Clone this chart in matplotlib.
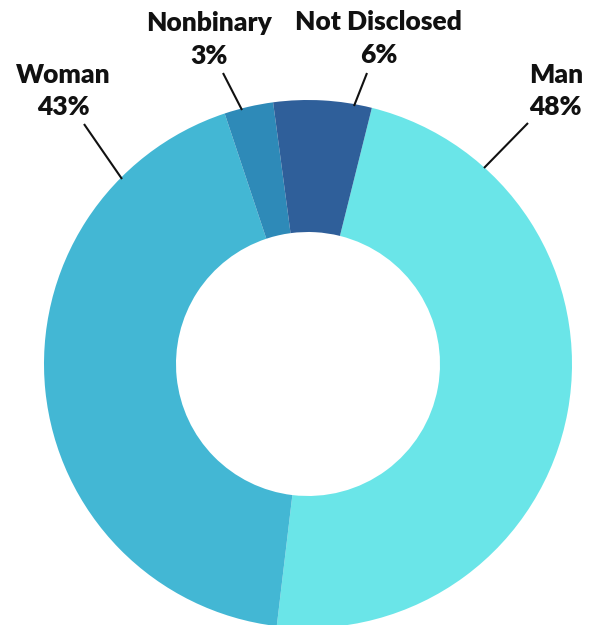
import numpy as np
import matplotlib.pyplot as plt

labels = ['Man', 'Woman', 'Nonbinary', 'Not Disclosed']
shares = [48, 43, 3, 6]
colors = ['#6AE5E8', '#43B7D4', '#2E8AB8', '#2F5F9A']

# label layout in pixels: name centre, percent centre, leader start, leader end
name_pos = [(556, 75), (63, 75), (209, 23), (378, 22)]
pct_pos = [(555, 107), (63, 107), (209, 56), (379, 55)]
lead_from = [(528, 123), (84, 124), (223, 73), (367, 73)]
lead_to = [(484, 168), (122, 179), (242, 110), (354, 106)]

W, H = 598, 625
cx, cy, R = 308, 364, 264


def px(p):
    return ((p[0] - cx) / R, (cy - p[1]) / R)


fig = plt.figure(figsize=(W / 100, H / 100), dpi=100)
ax = fig.add_axes([0, 0, 1, 1])
ax.pie(shares, colors=colors, startangle=76, counterclock=False,
       wedgeprops=dict(width=0.5, edgecolor='none'))
ax.set_xlim(-cx / R, (W - cx) / R)
ax.set_ylim(-(H - cy) / R, cy / R)
ax.set_aspect('auto')
ax.axis('off')

font = dict(family=['Lato', 'DejaVu Sans'], fontweight='heavy',
            fontsize=19, color='#111111', ha='center', va='center')
for lab, s, npos, ppos, a, b in zip(labels, shares, name_pos, pct_pos,
                                    lead_from, lead_to):
    ax.text(*px(npos), lab, **font)
    ax.text(*px(ppos), f'{s}%', **font)
    ax.plot(*zip(px(a), px(b)), color='#111111', lw=1.5,
            solid_capstyle='butt')

fig.savefig('out.png', dpi=100)
